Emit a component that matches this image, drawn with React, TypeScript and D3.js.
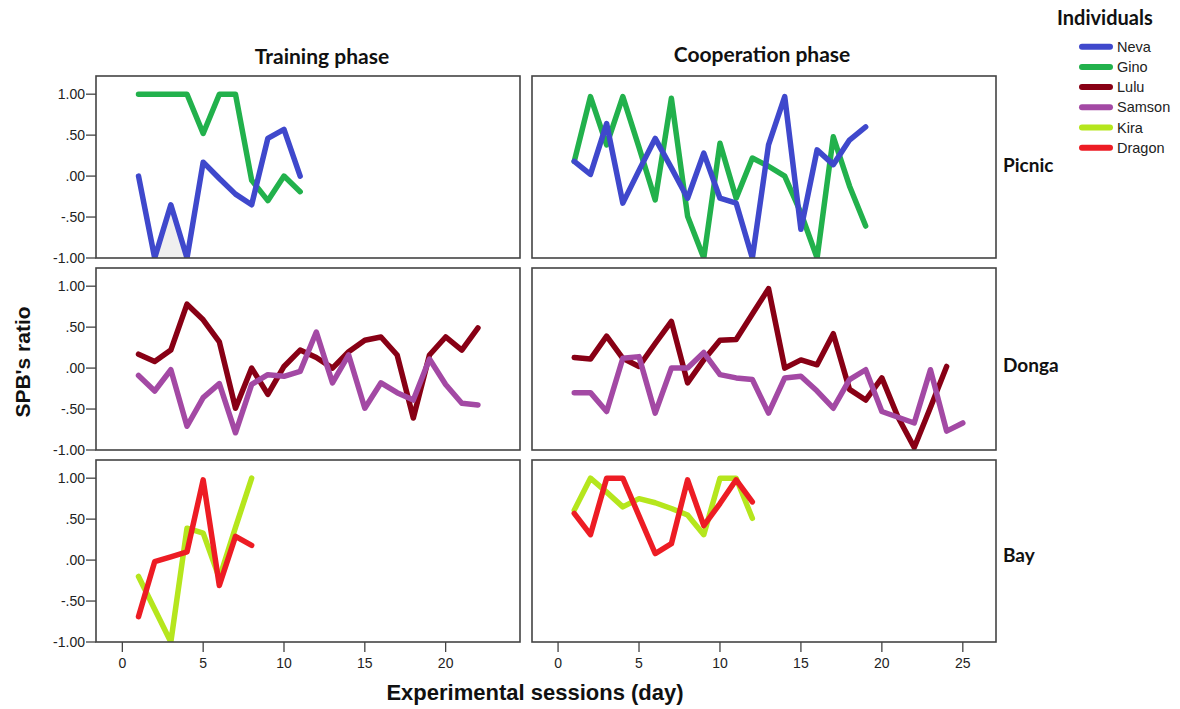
import React from 'react';
import * as d3 from 'd3';

const individuals = ['Neva', 'Gino', 'Lulu', 'Samson', 'Kira', 'Dragon'];
const colors = ['#3F48CC', '#22B14C', '#880015', '#A349A4', '#B5E61D', '#ED1C24'];
const phases = ['Training phase', 'Cooperation phase'];
const groups = ['Picnic', 'Donga', 'Bay'];
const yTicks = [1, 0.5, 0, -0.5, -1];
const yTickLabels = ['1.00', '.50', '.00', '-.50', '-1.00'];
const xTicksTraining = [0, 5, 10, 15, 20];
const xTicksCooperation = [0, 5, 10, 15, 20, 25];

// values per session (session = index + 1)
const nevaTraining = [0, -1, -0.35, -1, 0.17, -0.03, -0.22, -0.35, 0.46, 0.57, 0];
const ginoTraining = [1, 1, 1, 1, 0.52, 1, 1, -0.05, -0.3, 0, -0.19];
const nevaCooperation = [0.18, 0.02, 0.64, -0.33, 0.07, 0.46, 0.1, -0.27, 0.28, -0.27, -0.33, -1, 0.38, 0.97, -0.65, 0.32, 0.14, 0.44, 0.6];
const ginoCooperation = [0.18, 0.97, 0.38, 0.97, 0.35, -0.29, 0.95, -0.49, -1, 0.4, -0.27, 0.22, 0.12, 0, -0.45, -1, 0.48, -0.12, -0.61];
const luluTraining = [0.17, 0.08, 0.22, 0.78, 0.59, 0.32, -0.49, 0, -0.32, 0.02, 0.22, 0.13, 0, 0.2, 0.34, 0.38, 0.16, -0.61, 0.16, 0.38, 0.22, 0.49];
const samsonTraining = [-0.09, -0.28, -0.02, -0.71, -0.36, -0.19, -0.79, -0.2, -0.08, -0.1, -0.04, 0.44, -0.18, 0.16, -0.49, -0.18, -0.3, -0.39, 0.11, -0.2, -0.43, -0.45];
const luluCooperation = [0.13, 0.11, 0.39, 0.12, 0.02, 0.3, 0.57, -0.18, 0.1, 0.34, 0.35, 0.66, 0.97, 0, 0.1, 0.04, 0.42, -0.26, -0.39, -0.12, -0.6, -0.97, -0.48, 0.02];
const samsonCooperation = [-0.3, -0.3, -0.53, 0.12, 0.14, -0.55, 0, 0, 0.19, -0.08, -0.12, -0.14, -0.55, -0.12, -0.1, -0.28, -0.49, -0.14, -0.02, -0.53, -0.6, -0.67, -0.02, -0.77, -0.67];
const kiraTraining = [-0.2, -0.6, -1, 0.39, 0.33, -0.22, 0.4, 1];
const dragonTraining = [-0.69, -0.02, 0.04, 0.1, 0.98, -0.31, 0.29, 0.18];
const kiraCooperation = [0.61, 1, 0.83, 0.65, 0.75, 0.7, 0.63, 0.55, 0.31, 1, 1, 0.51];
const dragonCooperation = [0.57, 0.31, 1, 1, 0.54, 0.08, 0.2, 0.98, 0.42, 0.69, 0.98, 0.71];

type Series = { name: string; values: number[] };

const panelSeries: Series[][][] = [
  [
    [{ name: 'Gino', values: ginoTraining }, { name: 'Neva', values: nevaTraining }],
    [{ name: 'Gino', values: ginoCooperation }, { name: 'Neva', values: nevaCooperation }],
  ],
  [
    [{ name: 'Lulu', values: luluTraining }, { name: 'Samson', values: samsonTraining }],
    [{ name: 'Lulu', values: luluCooperation }, { name: 'Samson', values: samsonCooperation }],
  ],
  [
    [{ name: 'Kira', values: kiraTraining }, { name: 'Dragon', values: dragonTraining }],
    [{ name: 'Kira', values: kiraCooperation }, { name: 'Dragon', values: dragonCooperation }],
  ],
];

const colorOf = (name: string) => colors[individuals.indexOf(name)];

export default function App() {
  const W = 1180;
  const H = 709;
  const cols = [
    { x0: 96, x1: 520, domain: [-1.63, 24.6], ticks: xTicksTraining },
    { x0: 532, x1: 996, domain: [-1.61, 27.05], ticks: xTicksCooperation },
  ];
  const rows = [
    [76, 258],
    [268, 450],
    [460, 642],
  ];
  const rowLabelY = [172, 372, 562];
  const titleX = [322, 762];
  const axisFont = '"Liberation Sans", Arial, sans-serif';
  const titleFont = 'Lato, "Open Sans", sans-serif';

  return (
    <svg width={W} height={H} style={{ position: 'absolute', left: 0, top: 0, background: '#fff' }}>
      <rect x={0} y={0} width={W} height={H} fill="#fff" />
      <defs>
        {rows.map((r, ri) =>
          cols.map((c, ci) => (
            <clipPath id={`clip-${ri}-${ci}`} key={`c${ri}${ci}`}>
              <rect x={c.x0} y={r[0]} width={c.x1 - c.x0} height={r[1] - r[0]} />
            </clipPath>
          ))
        )}
      </defs>

      {phases.map((p, ci) => (
        <text
          key={p}
          x={titleX[ci]}
          y={ci === 0 ? 64 : 62}
          textAnchor="middle"
          fontFamily={titleFont}
          fontWeight="bold"
          fontSize={21}
          fill="#111"
        >
          {p}
        </text>
      ))}

      {rows.map((r, ri) =>
        cols.map((c, ci) => {
          const x = d3.scaleLinear().domain(c.domain).range([c.x0, c.x1]);
          const y = d3.scaleLinear().domain([-1, 1.222]).range([r[1], r[0]]);
          const line = d3
            .line<number>()
            .x((_, i) => x(i + 1))
            .y((d) => y(d));
          const series = panelSeries[ri][ci];
          let shade: string | null = null;
          if (ri === 0 && ci === 0) {
            const area = d3
              .area<number>()
              .x((_, i) => x(i + 2))
              .y0(y(-1))
              .y1((d) => y(d));
            shade = area(nevaTraining.slice(1, 4));
          }
          return (
            <g key={`p${ri}${ci}`}>
              <rect x={c.x0} y={r[0]} width={c.x1 - c.x0} height={r[1] - r[0]} fill="#fff" />
              <g clipPath={`url(#clip-${ri}-${ci})`}>
                {shade && <path d={shade} fill="#efefef" />}
                {series.map((s) => (
                  <path
                    key={s.name}
                    d={line(s.values) || ''}
                    fill="none"
                    stroke={colorOf(s.name)}
                    strokeWidth={5.5}
                    strokeLinejoin="round"
                    strokeLinecap="round"
                  />
                ))}
              </g>
              <rect
                x={c.x0}
                y={r[0]}
                width={c.x1 - c.x0}
                height={r[1] - r[0]}
                fill="none"
                stroke="#444"
                strokeWidth={1.6}
              />
              {ci === 0 &&
                yTicks.map((t, ti) => (
                  <g key={`yt${ti}`}>
                    <line x1={c.x0 - 10} x2={c.x0} y1={y(t)} y2={y(t)} stroke="#444" strokeWidth={1.3} />
                    <text
                      x={c.x0 - 11}
                      y={y(t) + 5}
                      textAnchor="end"
                      fontFamily={axisFont}
                      fontSize={14}
                      fill="#222"
                    >
                      {yTickLabels[ti]}
                    </text>
                  </g>
                ))}
              {ri === 2 &&
                c.ticks.map((t) => (
                  <g key={`xt${t}`}>
                    <line x1={x(t)} x2={x(t)} y1={r[1]} y2={r[1] + 10} stroke="#444" strokeWidth={1.3} />
                    <text
                      x={x(t)}
                      y={r[1] + 26}
                      textAnchor="middle"
                      fontFamily={axisFont}
                      fontSize={14}
                      fill="#222"
                    >
                      {t}
                    </text>
                  </g>
                ))}
            </g>
          );
        })
      )}

      {groups.map((g, ri) => (
        <text
          key={g}
          x={1003}
          y={rowLabelY[ri]}
          fontFamily={titleFont}
          fontWeight="bold"
          fontSize={19}
          fill="#111"
        >
          {g}
        </text>
      ))}

      <text
        transform={`translate(30, 362) rotate(-90)`}
        textAnchor="middle"
        fontFamily={axisFont}
        fontWeight="bold"
        fontSize={21}
        fill="#111"
      >
        SPB's ratio
      </text>
      <text
        x={535}
        y={700}
        textAnchor="middle"
        fontFamily={axisFont}
        fontWeight="bold"
        fontSize={22}
        fill="#111"
      >
        Experimental sessions (day)
      </text>

      <text x={1057} y={25} fontFamily={titleFont} fontWeight="bold" fontSize={20} fill="#111">
        Individuals
      </text>
      {individuals.map((n, i) => {
        const ly = 46.7 + i * 20.2;
        return (
          <g key={n}>
            <line x1={1082} x2={1110} y1={ly} y2={ly} stroke={colors[i]} strokeWidth={6} strokeLinecap="round" />
            <text x={1117} y={ly + 5} fontFamily={axisFont} fontSize={14.5} fill="#222">
              {n}
            </text>
          </g>
        );
      })}
    </svg>
  );
}
